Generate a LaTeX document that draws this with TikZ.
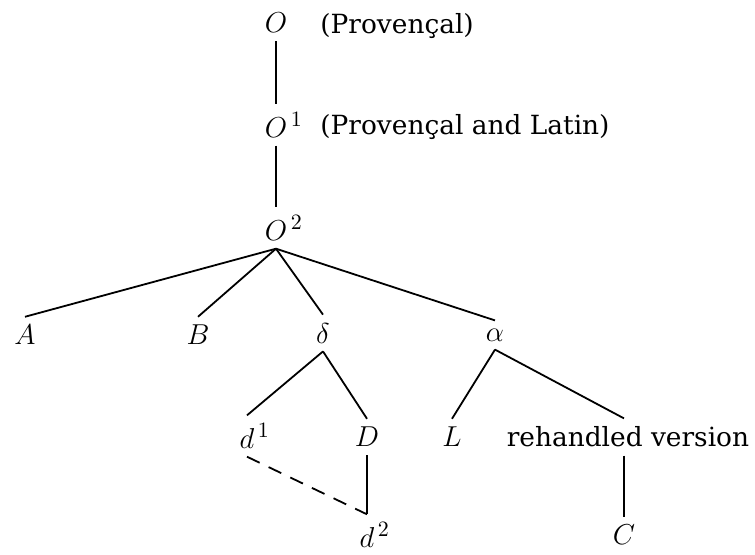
\documentclass[tikz,border=0pt]{standalone}
\usepackage{amsmath}
\usepackage{fontspec}
\newfontfamily\widerm{DejaVu Serif}
\usepackage{tikz}
\usetikzlibrary{positioning}

\begin{document}
\begin{tikzpicture}[
  x=0.5pt,
  y=-0.5pt,
  font=\fontsize{15.5}{18}\selectfont,
  ms/.style={inner sep=4pt},
  note/.style={inner sep=4pt, font=\widerm\fontsize{13.2}{15}\selectfont},
  branch/.style={line width=0.9pt},
  lost/.style={line width=0.9pt, dash pattern=on 7pt off 5pt}
]
  \useasboundingbox (0,0) rectangle (755,554);

  \node[ms] (O) at (276,23) {$O$};
  \node[note, anchor=west] (prov) at (312,26) {(Provençal)};
  \node[ms] (O1) at (276,125) {$O\rlap{$^{\,1}$}$};
  \node[note, anchor=west] (provlat) at (312,127) {(Provençal and Latin)};
  \node[ms] (O2) at (276,228) {$O\rlap{$^{\,2}$}$};

  \node[ms] (A) at (25,335) {$A$};
  \node[ms] (B) at (198,335) {$B$};
  \node[ms] (delta) at (323,333) {$\delta$};
  \node[ms] (alpha) at (495,335) {$\alpha$};

  \node[ms] (d1) at (247,436) {$d\rlap{$^{\,1}$}$};
  \node[ms] (D) at (367,437) {$D$};
  \node[ms] (L) at (452,437) {$L$};
  \node[note] (rv) at (628,437) {rehandled version};

  \node[ms] (d2) at (367,535) {$d\rlap{$^{\,2}$}$};
  \node[ms] (C) at (624,535) {$C$};

  \draw[branch] (O) -- (O1);
  \draw[branch] (O1) -- (O2);
  \foreach \k in {A,B,delta,alpha}
    \draw[branch] (O2.south) -- (\k.north);
  \draw[branch] (delta.south) -- (d1.north);
  \draw[branch] (delta.south) -- (D.north);
  \draw[branch] (alpha.south) -- (L.north);
  \draw[branch] (alpha.south) -- (rv.north -| C.north);
  \draw[lost] (d1.south) -- (d2.north);
  \draw[branch] (D) -- (d2);
  \draw[branch] (rv.south -| C.north) -- (C);
\end{tikzpicture}
\end{document}
